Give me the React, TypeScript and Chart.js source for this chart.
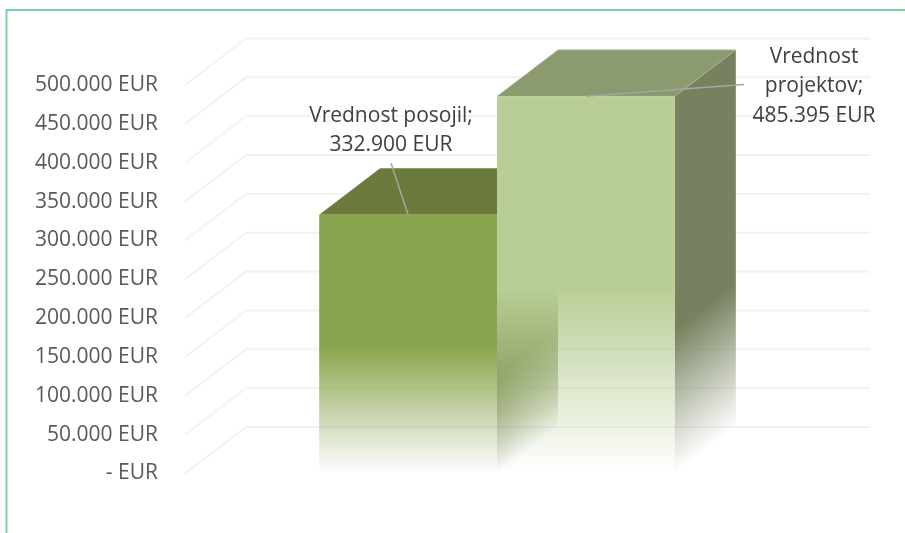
import React, { useEffect, useRef } from "react";
import { Chart, registerables } from "chart.js";

Chart.register(...registerables);

const categories = [""];
const seriesNames = ["Vrednost posojil", "Vrednost projektov"];
const seriesValues = [332900, 485395];
const frontColors = ["#8AA54E", "#B9CE96"];
const topColors = ["#6A7B3B", "#8B9A6F"];
const sideColors = ["#657539", "#76825F"];
const axisMax = 500000;
const axisStep = 50000;

const FONT = '"Open Sans", sans-serif';
const FONT_SIZE = 21;
const DEPTH_X = 61;
const DEPTH_Y = 46.5;
const FRONT_OPAQUE = 0.51;
const SIDE_OPAQUE = 0.62;

const rgba = (hex: string, a: number) => {
  const n = parseInt(hex.slice(1), 16);
  return `rgba(${(n >> 16) & 255},${(n >> 8) & 255},${n & 255},${a})`;
};
const thousands = (v: number) => String(v).replace(/\B(?=(\d{3})+$)/g, ".");
const money = (v: number) => (v === 0 ? "- EUR" : `${thousands(v)} EUR`);

const fadeStops = (g: CanvasGradient, hex: string, stop: number) => {
  g.addColorStop(0, rgba(hex, 1));
  g.addColorStop(stop, rgba(hex, 1));
  g.addColorStop(1, rgba(hex, 0));
  return g;
};

// where each data label sits and how its text wraps
const labelLayout = [
  { cx: 391, firstLine: 116, wrap: 190, from: [391, 163] },
  { cx: 814, firstLine: 57, wrap: 135, from: [744, 84.5] },
];

const scene = {
  id: "scene3d",
  beforeDatasetsDraw(chart: any) {
    const { ctx, scales } = chart;
    const y = scales.y;
    const left = chart.chartArea.left;
    const right = chart.chartArea.right;
    ctx.save();
    // frame
    ctx.strokeStyle = "#7AD3A2";
    ctx.lineWidth = 2;
    ctx.beginPath();
    ctx.moveTo(6.5, 533);
    ctx.lineTo(6.5, 10);
    ctx.lineTo(905, 10);
    ctx.stroke();
    // wall grid
    ctx.strokeStyle = "#F2F2F2";
    ctx.lineWidth = 2;
    y.ticks.forEach((t: any) => {
      const py = y.getPixelForValue(t.value);
      ctx.beginPath();
      ctx.moveTo(left, py);
      ctx.lineTo(left + DEPTH_X, py - DEPTH_Y);
      ctx.lineTo(right + DEPTH_X, py - DEPTH_Y);
      ctx.stroke();
    });
    // side and top faces
    chart.data.datasets.forEach((_: any, i: number) => {
      const bar = chart.getDatasetMeta(i).data[0];
      const x0 = bar.x - bar.width / 2;
      const x1 = bar.x + bar.width / 2;
      const top = bar.y;
      const base = bar.base;
      const h = base - top;
      const len = Math.hypot(DEPTH_X, DEPTH_Y);
      const nx = DEPTH_Y / len;
      const ny = DEPTH_X / len;
      const side = ctx.createLinearGradient(x1, top, x1 + nx * h * ny, top + ny * h * ny);
      fadeStops(side, sideColors[i], SIDE_OPAQUE);
      ctx.fillStyle = side;
      ctx.beginPath();
      ctx.moveTo(x1, top);
      ctx.lineTo(x1 + DEPTH_X, top - DEPTH_Y);
      ctx.lineTo(x1 + DEPTH_X, base - DEPTH_Y);
      ctx.lineTo(x1, base);
      ctx.closePath();
      ctx.fill();

      ctx.fillStyle = topColors[i];
      ctx.beginPath();
      ctx.moveTo(x0, top);
      ctx.lineTo(x0 + DEPTH_X, top - DEPTH_Y);
      ctx.lineTo(x1 + DEPTH_X, top - DEPTH_Y);
      ctx.lineTo(x1, top);
      ctx.closePath();
      ctx.fill();
      if (i === 1) {
        ctx.strokeStyle = rgba(frontColors[i], 0.45);
        ctx.lineWidth = 1;
        ctx.stroke();
      }
    });
    ctx.restore();
  },
  afterDatasetsDraw(chart: any) {
    const { ctx } = chart;
    ctx.save();
    ctx.font = `${FONT_SIZE}px ${FONT}`;
    ctx.textAlign = "center";
    ctx.textBaseline = "middle";
    chart.data.datasets.forEach((ds: any, i: number) => {
      const bar = chart.getDatasetMeta(i).data[0];
      const lay = labelLayout[i];
      ctx.strokeStyle = "#A6A6A6";
      ctx.lineWidth = 1.5;
      ctx.beginPath();
      ctx.moveTo(lay.from[0], lay.from[1]);
      ctx.lineTo(bar.x, bar.y);
      ctx.stroke();
      const words = `${ds.label};`.split(" ");
      const lines: string[] = [];
      let cur = "";
      words.forEach((w: string) => {
        const next = cur ? `${cur} ${w}` : w;
        if (ctx.measureText(next).width > lay.wrap && cur) {
          lines.push(cur);
          cur = w;
        } else cur = next;
      });
      lines.push(cur, money(ds.data[0]));
      ctx.fillStyle = "#404040";
      lines.forEach((l, k) => ctx.fillText(l, lay.cx, lay.firstLine + k * 29.5));
    });
    ctx.restore();
  },
};

export default function App() {
  const ref = useRef<HTMLCanvasElement>(null);
  useEffect(() => {
    document.body.style.margin = "0";
    document.body.style.background = "#fff";
    const chart = new Chart(ref.current!, {
      type: "bar",
      data: {
        labels: categories,
        datasets: seriesNames.map((name, i) => ({
          label: name,
          data: [seriesValues[i]],
          borderWidth: 0,
          backgroundColor: (c: any) => {
            const s = c.chart.scales?.y;
            if (!s || !c.chart.chartArea) return frontColors[i];
            const g = c.chart.ctx.createLinearGradient(
              0,
              s.getPixelForValue(seriesValues[i]),
              0,
              s.getPixelForValue(0)
            );
            return fadeStops(g, frontColors[i], FRONT_OPAQUE);
          },
        })),
      },
      options: {
        responsive: false,
        animation: false,
        layout: { padding: { left: 0, top: 85, right: 96, bottom: 59.5 } },
        datasets: { bar: { categoryPercentage: 0.57, barPercentage: 1 } },
        plugins: { legend: { display: false }, tooltip: { enabled: false } },
        scales: {
          x: { display: false },
          y: {
            min: 0,
            max: axisMax,
            afterFit: (s: any) => {
              s.width = 185;
            },
            grid: { display: false, drawTicks: false },
            border: { display: false },
            ticks: {
              stepSize: axisStep,
              padding: 27,
              color: "#595959",
              font: { family: FONT, size: FONT_SIZE },
              callback: (v: any) => money(Number(v)),
            },
          },
        },
      },
      plugins: [scene],
    } as any);
    return () => chart.destroy();
  }, []);
  return (
    <div style={{ position: "fixed", left: 0, top: 0, width: 905, height: 533, overflow: "hidden" }}>
      <canvas ref={ref} width={905} height={533} style={{ display: "block" }} />
    </div>
  );
}
